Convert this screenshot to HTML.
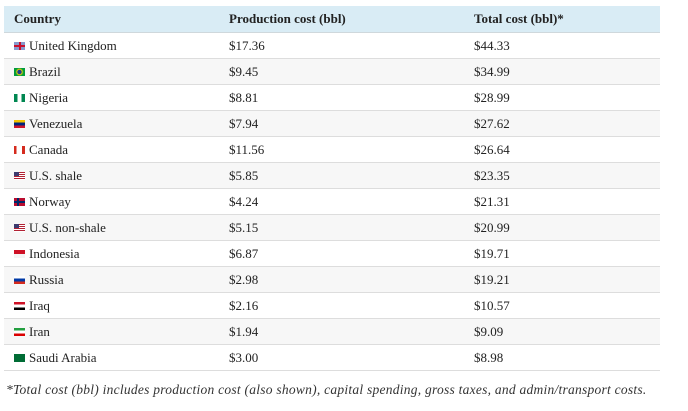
<!DOCTYPE html>
<html><head><style>
body{margin:0;background:#fff;width:688px;height:411px;overflow:hidden;font-family:"Liberation Serif","DejaVu Serif",serif;color:#222;font-size:13px}
table{position:absolute;left:4px;top:6px;width:656px;border-collapse:collapse}
th{background:#d9ecf5;text-align:left;font-weight:bold;height:26px;padding:0 0 0 10px;border-bottom:1px solid #cfd8dc}
td{height:25px;padding:0 0 0 10px;border-bottom:1px solid #ddd}
tr:nth-child(odd) td{background:#f7f7f7}
.c2{width:235px}
.f{display:inline-block;width:11px;height:8px;margin-right:4px;vertical-align:0px}
.note{position:absolute;left:6px;top:382px;font-style:italic;font-size:13.5px;letter-spacing:0.25px;color:#333;white-space:nowrap}
</style></head><body>
<table>
<tr><th style="width:205px">Country</th><th class="c2">Production cost (bbl)</th><th>Total cost (bbl)*</th></tr>
<tr><td><span class="f" style="background:linear-gradient(#c8102e,#c8102e) center/100% 2px no-repeat,linear-gradient(#c8102e,#c8102e) center/2px 100% no-repeat,#8899cc"></span>United Kingdom</td><td>$17.36</td><td>$44.33</td></tr>
<tr><td><span class="f" style="background:radial-gradient(circle,#1e3d8f 2px,#f2d600 2.5px,#009c3b 4px)"></span>Brazil</td><td>$9.45</td><td>$34.99</td></tr>
<tr><td><span class="f" style="background:linear-gradient(90deg,#008751 33%,#fff 33% 66%,#008751 66%)"></span>Nigeria</td><td>$8.81</td><td>$28.99</td></tr>
<tr><td><span class="f" style="background:linear-gradient(#f4c300 33%,#00247d 33% 66%,#cf142b 66%)"></span>Venezuela</td><td>$7.94</td><td>$27.62</td></tr>
<tr><td><span class="f" style="background:linear-gradient(90deg,#d52b1e 25%,#fff 25% 75%,#d52b1e 75%)"></span>Canada</td><td>$11.56</td><td>$26.64</td></tr>
<tr><td><span class="f" style="background:linear-gradient(#3c3b6e,#3c3b6e) 0 0/5px 4px no-repeat,repeating-linear-gradient(#b22234 0 1px,#fff 1px 2px)"></span>U.S. shale</td><td>$5.85</td><td>$23.35</td></tr>
<tr><td><span class="f" style="background:linear-gradient(#002868,#002868) center/100% 2px no-repeat,linear-gradient(90deg,transparent 3px,#002868 3px 5px,transparent 5px),#ba0c2f"></span>Norway</td><td>$4.24</td><td>$21.31</td></tr>
<tr><td><span class="f" style="background:linear-gradient(#3c3b6e,#3c3b6e) 0 0/5px 4px no-repeat,repeating-linear-gradient(#b22234 0 1px,#fff 1px 2px)"></span>U.S. non-shale</td><td>$5.15</td><td>$20.99</td></tr>
<tr><td><span class="f" style="background:linear-gradient(#ce1126 50%,#f4f4f4 50%)"></span>Indonesia</td><td>$6.87</td><td>$19.71</td></tr>
<tr><td><span class="f" style="background:linear-gradient(#fff 33%,#0039a6 33% 66%,#d52b1e 66%)"></span>Russia</td><td>$2.98</td><td>$19.21</td></tr>
<tr><td><span class="f" style="background:linear-gradient(#ce1126 33%,#fff 33% 66%,#000 66%)"></span>Iraq</td><td>$2.16</td><td>$10.57</td></tr>
<tr><td><span class="f" style="background:linear-gradient(#239f40 33%,#fff 33% 66%,#da0000 66%)"></span>Iran</td><td>$1.94</td><td>$9.09</td></tr>
<tr><td><span class="f" style="background:#006c35"></span>Saudi Arabia</td><td>$3.00</td><td>$8.98</td></tr>
</table>
<div class="note">*Total cost (bbl) includes production cost (also shown), capital spending, gross taxes, and admin/transport costs.</div>
</body></html>
